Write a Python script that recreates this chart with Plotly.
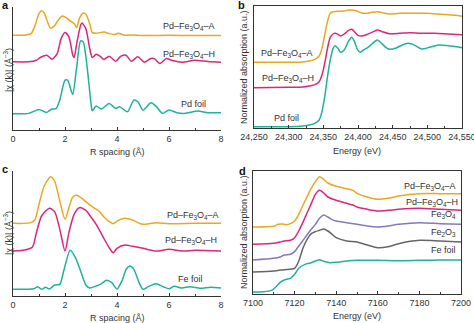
import plotly.graph_objects as go

# ---------------- data ----------------
# Panel a (Pd K-edge FT-EXAFS), R in Å, offset magnitude (a.u.)
a_R_A = [0, 0.5, 0.7, 0.85, 1.0, 1.1, 1.2, 1.35, 1.45, 1.6, 1.75, 1.9, 2.05, 2.2, 2.35, 2.45, 2.55, 2.7, 2.8, 2.95, 3.05, 3.2, 3.5, 3.7, 3.9, 4.05, 4.3, 4.6, 5.0, 6.0, 7.0, 8.0]
a_A = [285, 286, 290, 315, 350, 359, 352, 320, 306, 314, 332, 343, 338, 328, 320, 308, 335, 352, 348, 320, 293, 291, 295, 290, 287, 291, 285, 286, 284, 285, 284, 284]
a_R_H = [0, 0.6, 0.9, 1.05, 1.3, 1.5, 1.7, 1.85, 2.0, 2.15, 2.3, 2.35, 2.45, 2.6, 2.65, 2.8, 2.95, 3.05, 3.2, 3.35, 3.5, 3.7, 3.95, 4.15, 4.35, 4.55, 4.8, 5.05, 5.3, 5.45, 5.65, 5.9, 6.1, 6.5, 7.0, 7.5, 8.0]
a_H = [205, 205, 210, 218, 225, 213, 230, 275, 293, 280, 225, 218, 260, 315, 322, 305, 245, 218, 228, 222, 212, 222, 207, 222, 225, 207, 220, 204, 215, 214, 200, 215, 210, 204, 210, 206, 204]
a_R_Pd = [0, 0.6, 1.0, 1.2, 1.3, 1.5, 1.65, 1.8, 2.0, 2.1, 2.25, 2.3, 2.45, 2.6, 2.7, 2.85, 3.0, 3.05, 3.2, 3.4, 3.7, 3.95, 4.1, 4.4, 4.65, 4.8, 5.0, 5.3, 5.5, 5.75, 6.0, 6.3, 6.6, 7.1, 7.5, 8.0]
a_Pd = [49, 50, 62, 55, 53, 63, 64, 90, 150, 150, 115, 107, 190, 268, 265, 190, 80, 58, 72, 63, 80, 65, 70, 55, 90, 85, 60, 82, 72, 50, 60, 52, 50, 57, 52, 52]

# Panel b (Pd K-edge XANES)
b_E = [24250, 24300, 24320, 24330, 24338, 24344, 24348, 24352, 24356, 24360, 24364, 24367, 24371, 24375, 24380, 24386, 24391, 24395, 24399, 24403, 24408, 24414, 24420, 24428, 24434, 24440, 24446, 24455, 24465, 24473, 24482, 24492, 24503, 24516, 24530, 24542, 24550]
b_Pd = [4, 4, 6, 9, 14, 24, 49, 94, 154, 204, 239, 247, 239, 227, 234, 259, 272, 259, 236, 227, 234, 241, 252, 264, 254, 242, 236, 240, 250, 254, 248, 237, 242, 249, 247, 244, 241]
b_E_H = [24250, 24300, 24320, 24330, 24338, 24344, 24348, 24352, 24356, 24360, 24364, 24367, 24371, 24375, 24380, 24386, 24391, 24395, 24400, 24405, 24412, 24420, 24428, 24435, 24445, 24460, 24475, 24490, 24510, 24530, 24550]
b_H = [121, 122, 123, 126, 130, 139, 159, 194, 239, 272, 282, 284, 281, 276, 282, 292, 296, 289, 278, 276, 280, 287, 294, 289, 283, 284, 286, 284, 284, 282, 280]
b_E_A = [24250, 24300, 24320, 24330, 24338, 24344, 24348, 24352, 24356, 24360, 24364, 24370, 24380, 24385, 24391, 24398, 24405, 24412, 24420, 24428, 24435, 24445, 24460, 24480, 24500, 24520, 24540, 24550]
b_A = [197, 197, 198, 201, 206, 216, 239, 279, 319, 344, 349, 350, 351, 353, 354, 351, 345, 344, 347, 349, 346, 342, 344, 344, 344, 341, 338, 335]

# Panel c (Fe K-edge FT-EXAFS)
c_R_A = [0, 0.7, 0.85, 1.0, 1.2, 1.45, 1.6, 1.8, 2.0, 2.15, 2.3, 2.45, 2.65, 2.85, 3.1, 3.3, 3.5, 3.7, 3.85, 4.05, 4.3, 4.6, 4.9, 5.1, 5.5, 6.0, 7.0, 8.0]
c_A = [218, 220, 230, 275, 330, 358, 345, 285, 230, 265, 297, 302, 293, 280, 265, 255, 237, 223, 217, 227, 233, 228, 217, 215, 220, 217, 218, 218]
c_R_H = [0, 0.5, 0.75, 0.9, 1.1, 1.4, 1.6, 1.8, 2.0, 2.15, 2.35, 2.55, 2.8, 3.0, 3.2, 3.5, 3.7, 3.85, 4.0, 4.3, 4.6, 5.0, 5.5, 6.0, 6.5, 7.0, 8.0]
c_H = [135, 139, 147, 190, 240, 263, 253, 200, 135, 190, 245, 265, 257, 237, 215, 172, 145, 130, 143, 153, 149, 143, 135, 140, 135, 137, 135]
c_R_Fe = [0, 0.8, 0.95, 1.1, 1.25, 1.4, 1.6, 1.8, 1.95, 2.2, 2.4, 2.6, 2.8, 2.95, 3.2, 3.4, 3.6, 3.8, 4.0, 4.2, 4.35, 4.5, 4.65, 4.85, 5.0, 5.2, 5.5, 5.8, 6.0, 6.2, 6.5, 6.8, 7.2, 7.6, 8.0]
c_Fe = [20, 22, 28, 20, 26, 21, 33, 35, 75, 137, 115, 75, 33, 24, 30, 37, 47, 40, 21, 47, 80, 90, 80, 40, 20, 28, 37, 27, 22, 29, 24, 28, 23, 26, 24]

# Panel d (Fe K-edge XANES)
d_E1 = [7100, 7110, 7112, 7114, 7116, 7118, 7120, 7122, 7125, 7128, 7130, 7132, 7134, 7136, 7140, 7145, 7148, 7150, 7155, 7160, 7165, 7170, 7180, 7190, 7200]
d_A = [201, 203, 209, 210, 208, 211, 219, 239, 279, 317, 337, 352, 344, 333, 323, 316, 311, 302, 291, 284, 287, 294, 301, 301, 301]
d_E2 = [7100, 7110, 7113, 7115, 7118, 7120, 7122, 7125, 7128, 7130, 7132, 7134, 7136, 7140, 7145, 7148, 7150, 7155, 7160, 7165, 7170, 7180, 7190, 7200]
d_H = [149, 152, 156, 159, 161, 169, 189, 229, 271, 299, 311, 303, 291, 281, 272, 267, 261, 254, 249, 251, 254, 257, 254, 251]
d_E3 = [7100, 7110, 7113, 7115, 7118, 7120, 7122, 7125, 7128, 7130, 7132, 7134, 7136, 7138, 7140, 7145, 7150, 7155, 7160, 7165, 7170, 7180, 7190, 7200]
d_Fe3O4 = [102, 107, 111, 117, 119, 127, 144, 169, 194, 209, 227, 237, 231, 223, 219, 214, 209, 204, 201, 204, 209, 214, 211, 209]
d_E4 = [7100, 7110, 7115, 7120, 7122, 7124, 7126, 7128, 7130, 7132, 7134, 7136, 7138, 7140, 7145, 7150, 7155, 7160, 7165, 7170, 7180, 7190, 7200]
d_Fe2O3 = [66, 69, 73, 77, 99, 137, 164, 181, 187, 191, 195, 189, 179, 169, 159, 156, 147, 139, 142, 151, 161, 159, 156]
d_E5 = [7100, 7105, 7109, 7111, 7113, 7116, 7118, 7120, 7122, 7125, 7128, 7130, 7132, 7134, 7137, 7140, 7145, 7150, 7160, 7170, 7180, 7190, 7200]
d_Fe = [6, 7, 11, 21, 35, 44, 47, 59, 77, 89, 94, 99, 103, 98, 94, 95, 99, 101, 101, 100, 101, 102, 102]

# ---------------- styling ----------------
YEL = "#e9a823"
MAG = "#d9287a"
TEAL = "#1fb39a"
PUR = "#8279c2"
GRY = "#666666"
TXT = "#333333"
FONT = "Liberation Sans, Arial, sans-serif"
W, H = 474, 323


def P(px, py):
    return px / W, 1 - py / H


fig = go.Figure()


def add(x, y, color, xa, ya):
    fig.add_trace(go.Scatter(x=x, y=y, mode="lines", xaxis=xa, yaxis=ya,
                             line=dict(color=color, width=1.5, shape="spline", smoothing=0.7),
                             showlegend=False, hoverinfo="skip"))


add(a_R_A, a_A, YEL, "x", "y")
add(a_R_H, a_H, MAG, "x", "y")
add(a_R_Pd, a_Pd, TEAL, "x", "y")
add(b_E_A, b_A, YEL, "x2", "y2")
add(b_E_H, b_H, MAG, "x2", "y2")
add(b_E, b_Pd, TEAL, "x2", "y2")
add(c_R_A, c_A, YEL, "x3", "y3")
add(c_R_H, c_H, MAG, "x3", "y3")
add(c_R_Fe, c_Fe, TEAL, "x3", "y3")
add(d_E1, d_A, YEL, "x4", "y4")
add(d_E2, d_H, MAG, "x4", "y4")
add(d_E3, d_Fe3O4, PUR, "x4", "y4")
add(d_E4, d_Fe2O3, GRY, "x4", "y4")
add(d_E5, d_Fe, TEAL, "x4", "y4")


def xdom(l, r):
    return [l / W, r / W]


def ydom(bot, top):
    return [1 - bot / H, 1 - top / H]


tickfont = dict(family=FONT, size=9, color=TXT)
common_x = dict(showgrid=False, zeroline=False, showline=True, linecolor=TXT, linewidth=1,
                ticks="inside", ticklen=3, tickcolor=TXT, tickfont=tickfont, automargin=False)
common_y = dict(showgrid=False, zeroline=False, showline=True, linecolor=TXT, linewidth=1,
                showticklabels=False, ticks="", automargin=False)

fig.update_layout(
    width=W, height=H, margin=dict(l=0, r=0, t=0, b=0, autoexpand=False),
    paper_bgcolor="white", plot_bgcolor="white",
    xaxis=dict(domain=xdom(13, 221), range=[0, 8], tickvals=[0, 2, 4, 6, 8],
               minor=dict(dtick=1, ticks="inside", ticklen=2, tickcolor=TXT), anchor="y", **common_x),
    yaxis=dict(domain=ydom(130, 7), range=[0, 370], anchor="x", **common_y),
    xaxis2=dict(domain=xdom(254, 462), range=[24250, 24550],
                tickvals=[24250, 24300, 24350, 24400, 24450, 24500, 24550],
                ticktext=["24,250", "24,300", "24,350", "24,400", "24,450", "24,500", "24,550"],
                minor=dict(dtick=25, ticks="inside", ticklen=2, tickcolor=TXT),
                mirror=True, anchor="y2", ticklabeloverflow="allow", **common_x),
    yaxis2=dict(domain=ydom(128, 6), range=[0, 366], mirror=True, anchor="x2", **common_y),
    xaxis3=dict(domain=xdom(13, 221), range=[0, 8], tickvals=[0, 2, 4, 6, 8],
                minor=dict(dtick=1, ticks="inside", ticklen=2, tickcolor=TXT), anchor="y3", **common_x),
    yaxis3=dict(domain=ydom(296, 171), range=[0, 375], anchor="x3", **common_y),
    xaxis4=dict(domain=xdom(253, 461), range=[7100, 7200], tickvals=[7100, 7120, 7140, 7160, 7180, 7200],
                minor=dict(dtick=10, ticks="inside", ticklen=2, tickcolor=TXT),
                mirror=True, anchor="y4", **common_x),
    yaxis4=dict(domain=ydom(294, 171), range=[0, 369], mirror=True, anchor="x4", **common_y),
)

ann = []


def text(px, py, s, size=9, xanchor="center", angle=0, bold=False, color=TXT):
    x, y = P(px, py)
    if bold:
        s = "<b>" + s + "</b>"
    ann.append(dict(x=x, y=y, xref="paper", yref="paper", text=s, showarrow=False,
                    xanchor=xanchor, yanchor="middle", textangle=angle,
                    font=dict(family=FONT, size=size, color=color)))


PFA = "Pd–Fe<sub>3</sub>O<sub>4</sub>–A"
PFH = "Pd–Fe<sub>3</sub>O<sub>4</sub>–H"

# panel letters
text(0, 5, "a", size=11, bold=True, color="#111", xanchor="left")
text(236, 5, "b", size=11, bold=True, color="#111", xanchor="left")
text(0, 169, "c", size=11, bold=True, color="#111", xanchor="left")
text(237, 171, "d", size=11, bold=True, color="#111", xanchor="left")

# panel a
text(217, 27, PFA, xanchor="right")
text(217, 55, PFH, xanchor="right")
text(193, 104, "Pd foil")
text(117, 152, "R spacing (Å)")
text(0, 70, "|χ (k)| (Å<sup>−3</sup>)", angle=-90, xanchor="left")

# panel b
text(287, 53, PFA)
text(288, 79, PFH)
text(286, 118, "Pd foil")
text(357, 151, "Energy (eV)")
text(244, 67, "Normalized absorption (a.u.)", angle=-90)

# panel c
text(221, 215, PFA, xanchor="right")
text(219, 241, PFH, xanchor="right")
text(190, 279, "Fe foil")
text(117, 318, "R spacing (Å)")
text(0, 233, "|χ (k)| (Å<sup>−3</sup>)", angle=-90, xanchor="left")

# panel d
text(458, 186, PFA, xanchor="right")
text(460, 202, PFH, xanchor="right")
text(443, 214, "Fe<sub>3</sub>O<sub>4</sub>")
text(443, 232, "Fe<sub>2</sub>O<sub>3</sub>")
text(443, 250, "Fe foil")
text(357, 316, "Energy (eV)")
text(244, 232, "Normalized absorption (a.u.)", angle=-90)

fig.update_layout(annotations=ann)
fig.write_html("out.html")
